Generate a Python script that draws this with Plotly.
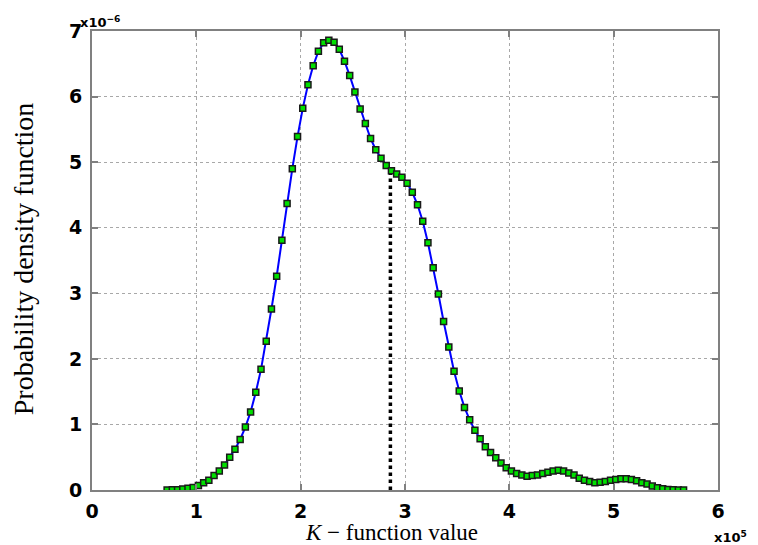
import plotly.graph_objects as go

# K-function values (in units of 1e5)
k_values = [
    0.72, 0.77, 0.82, 0.87, 0.92, 0.97, 1.02, 1.07, 1.12, 1.17,
    1.22, 1.27, 1.32, 1.37, 1.42, 1.47, 1.52, 1.57, 1.62, 1.67,
    1.72, 1.77, 1.82, 1.87, 1.92, 1.97, 2.02, 2.07, 2.12, 2.17,
    2.22, 2.27, 2.32, 2.37, 2.42, 2.47, 2.52, 2.57, 2.62, 2.67,
    2.72, 2.77, 2.82, 2.87, 2.92, 2.97, 3.02, 3.07, 3.12, 3.17,
    3.22, 3.27, 3.32, 3.37, 3.42, 3.47, 3.52, 3.57, 3.62, 3.67,
    3.72, 3.77, 3.82, 3.87, 3.92, 3.97, 4.02, 4.07, 4.12, 4.17,
    4.22, 4.27, 4.32, 4.37, 4.42, 4.47, 4.52, 4.57, 4.62, 4.67,
    4.72, 4.77, 4.82, 4.87, 4.92, 4.97, 5.02, 5.07, 5.12, 5.17,
    5.22, 5.27, 5.32, 5.37, 5.42, 5.47, 5.52, 5.57, 5.62, 5.67,
]

# probability density (in units of 1e-6)
pdf_values = [
    0.0, 0.003, 0.005, 0.015, 0.026, 0.04, 0.07, 0.11, 0.15, 0.22,
    0.29, 0.38, 0.50, 0.62, 0.77, 0.96, 1.19, 1.49, 1.84, 2.27,
    2.76, 3.26, 3.81, 4.37, 4.90, 5.39, 5.82, 6.18, 6.47, 6.69,
    6.82, 6.86, 6.83, 6.72, 6.54, 6.32, 6.07, 5.81, 5.59, 5.36,
    5.19, 5.06, 4.95, 4.87, 4.82, 4.77, 4.68, 4.54, 4.35, 4.10,
    3.77, 3.39, 2.99, 2.57, 2.18, 1.81, 1.51, 1.26, 1.07, 0.91,
    0.78, 0.66, 0.57, 0.49, 0.41, 0.34, 0.29, 0.25, 0.23, 0.21,
    0.22, 0.23, 0.25, 0.27, 0.29, 0.30, 0.29, 0.26, 0.23, 0.18,
    0.15, 0.13, 0.11, 0.12, 0.13, 0.15, 0.16, 0.17, 0.17, 0.16,
    0.14, 0.11, 0.09, 0.06, 0.035, 0.02, 0.008, 0.003, 0.001, 0.0,
]

# observed K value marked by the vertical line
observed_k = [2.86, 2.86]
observed_pdf = [0.0, 4.88]

x_ticks = [0, 1, 2, 3, 4, 5, 6]
y_ticks = [0, 1, 2, 3, 4, 5, 6, 7]

fig = go.Figure()

fig.add_trace(go.Scatter(x=observed_k, y=observed_pdf, mode='lines',
                         line=dict(color='black', width=3.5, dash='dot'),
                         showlegend=False))

fig.add_trace(go.Scatter(x=k_values, y=pdf_values, mode='lines+markers',
                         line=dict(color='#0000ff', width=2),
                         marker=dict(symbol='square', size=6, color='#00e000',
                                     line=dict(color='#1a1a1a', width=1.5)),
                         showlegend=False))

axis_style = dict(showline=True, linecolor='#808080', linewidth=2, mirror='ticks',
                  ticks='inside', ticklen=6, tickcolor='#808080', tickwidth=1.5,
                  showgrid=True, gridcolor='#a8a8a8', griddash='dot', gridwidth=1,
                  zeroline=False,
                  tickfont=dict(family='DejaVu Sans', size=19, color='black', weight='bold'))

fig.update_xaxes(range=[0, 6], tickvals=x_ticks, ticklabelstandoff=3, **axis_style)
fig.update_yaxes(range=[0, 7], tickvals=y_ticks, ticklabelstandoff=4, **axis_style)

# page has an 8px body margin, so the figure is a little smaller than the window
fig.update_layout(
    width=750, height=537,
    margin=dict(l=84, r=40, t=21, b=55),
    plot_bgcolor='white', paper_bgcolor='white',
    annotations=[
        dict(text='x10<sup>−6</sup>', xref='paper', yref='paper', x=0.013, y=1.02,
             xanchor='center', yanchor='middle', showarrow=False,
             font=dict(family='DejaVu Sans', size=13, color='black', weight='bold')),
        dict(text='x10<sup>5</sup>', xref='paper', yref='paper', x=1.02, y=-0.102,
             xanchor='center', yanchor='middle', showarrow=False,
             font=dict(family='DejaVu Sans', size=13, color='black', weight='bold')),
        dict(text='<i>K</i> − function value', xref='paper', yref='paper', x=0.478, y=-0.092,
             xanchor='center', yanchor='middle', showarrow=False,
             font=dict(family='Liberation Serif', size=23, color='black')),
        dict(text='Probability density function', xref='paper', yref='paper', x=-0.11, y=0.503,
             xanchor='center', yanchor='middle', showarrow=False, textangle=-90,
             font=dict(family='Liberation Serif', size=28, color='black')),
    ],
)

fig.write_html("out.html")
